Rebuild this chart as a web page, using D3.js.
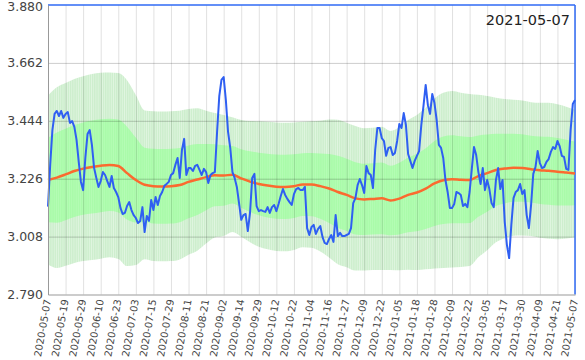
<!DOCTYPE html>
<html><head><meta charset="utf-8">
<script src="https://cdn.jsdelivr.net/npm/d3@7/dist/d3.min.js"></script>
<style>body{margin:0;background:#fff}svg{display:block}</style>
</head><body>
<svg id="c" width="585" height="360"></svg>
<script>
// daily closing values (241 trading days)
const price = [
3.121,3.278,3.409,3.470,3.481,3.462,3.481,3.455,3.470,3.477,
3.436,3.443,3.421,3.372,3.289,3.214,3.183,3.304,3.394,3.409,
3.353,3.266,3.229,3.195,3.217,3.251,3.240,3.217,3.195,3.236,
3.191,3.176,3.157,3.116,3.093,3.097,3.123,3.138,3.108,3.089,
3.078,3.059,3.067,3.119,3.025,3.086,3.067,3.146,3.108,3.157,
3.127,3.161,3.176,3.199,3.206,3.214,3.240,3.247,3.278,3.304,
3.229,3.334,3.376,3.240,3.266,3.266,3.255,3.274,3.278,3.259,
3.240,3.263,3.251,3.210,3.240,3.247,3.251,3.402,3.537,3.598,
3.609,3.522,3.402,3.342,3.251,3.229,3.195,3.134,3.071,3.089,
3.093,3.029,3.097,3.229,3.244,3.123,3.104,3.108,3.104,3.101,
3.119,3.097,3.119,3.127,3.104,3.131,3.161,3.187,3.165,3.150,
3.138,3.127,3.168,3.187,3.191,3.183,3.183,3.195,3.040,3.014,
3.044,3.052,3.018,3.037,3.048,3.007,2.984,2.980,2.999,3.014,
2.988,3.089,3.010,3.022,3.010,3.010,3.014,3.018,3.040,3.134,
3.153,3.202,3.225,3.202,3.172,3.274,3.247,3.240,3.191,3.334,
3.417,3.417,3.379,3.368,3.312,3.342,3.345,3.315,3.323,3.368,
3.432,3.417,3.473,3.428,3.319,3.293,3.266,3.293,3.312,3.330,
3.428,3.500,3.579,3.503,3.470,3.545,3.511,3.447,3.353,3.342,
3.304,3.221,3.176,3.116,3.116,3.131,3.176,3.172,3.165,3.123,
3.131,3.119,3.176,3.263,3.345,3.315,3.251,3.206,3.266,3.183,
3.221,3.187,3.134,3.119,3.221,3.266,3.187,3.221,3.063,2.976,
2.927,3.052,3.153,3.176,3.183,3.206,3.168,3.183,3.089,3.040,
3.127,3.244,3.270,3.330,3.285,3.266,3.270,3.289,3.300,3.327,
3.345,3.338,3.368,3.349,3.312,3.308,3.263,3.259,3.409,3.507,
3.522
];
// moving average and standard deviation, read every 4th trading day
const maValues = [
3.221,3.230,3.242,3.255,3.264,3.270,3.275,3.278,3.274,3.247,
3.221,3.203,3.198,3.197,3.198,3.202,3.214,3.223,3.232,3.239,
3.238,3.241,3.227,3.215,3.206,3.200,3.196,3.195,3.198,3.204,
3.204,3.198,3.189,3.176,3.165,3.152,3.148,3.150,3.152,3.144,
3.151,3.165,3.174,3.189,3.208,3.220,3.224,3.222,3.221,3.236,
3.247,3.259,3.264,3.267,3.266,3.262,3.258,3.256,3.252,3.249,
3.246
];
const sdValues = [
0.159,0.170,0.172,0.173,0.174,0.175,0.175,0.174,0.175,0.175,
0.160,0.140,0.141,0.141,0.141,0.140,0.137,0.134,0.125,0.117,
0.114,0.108,0.110,0.114,0.118,0.120,0.121,0.121,0.120,0.118,
0.119,0.123,0.130,0.136,0.136,0.136,0.134,0.134,0.135,0.131,
0.135,0.141,0.146,0.152,0.160,0.165,0.166,0.164,0.162,0.153,
0.145,0.136,0.131,0.128,0.127,0.126,0.127,0.128,0.127,0.124,
0.120
];
const xTickLabels = [
"2020-05-07","2020-05-19","2020-05-29","2020-06-10","2020-06-23","2020-07-03",
"2020-07-15","2020-07-29","2020-08-11","2020-08-21","2020-09-02","2020-09-14",
"2020-09-29","2020-10-12","2020-10-22","2020-11-04","2020-11-16","2020-11-27",
"2020-12-09","2020-12-22","2021-01-05","2021-01-18","2021-01-28","2021-02-09",
"2021-02-22","2021-03-05","2021-03-17","2021-03-30","2021-04-09","2021-04-21",
"2021-05-07"
];
const yTickValues = [3.880,3.662,3.444,3.226,3.008,2.790];
const titleDate = "2021-05-07";

const svg = d3.select("#c");
const L = 48, R = 575, T = 5, B = 294.5;
const n = price.length;
const x = d3.scaleLinear().domain([0, n - 1]).range([L, R]);
const y = d3.scaleLinear().domain([2.790, 3.880]).range([B, T]);
const band = maValues.map((m, k) => ({i: k * 4, m, s: sdValues[k]}));
const step = (R - L) / (n - 1);

const defs = svg.append("defs");
function stripes(id, base, light) {
  const p = defs.append("pattern").attr("id", id).attr("patternUnits", "userSpaceOnUse")
    .attr("x", L).attr("y", 0).attr("width", step).attr("height", 10);
  p.append("rect").attr("width", step).attr("height", 10).attr("fill", base);
  p.append("rect").attr("x", step * 0.62).attr("width", step * 0.38).attr("height", 10).attr("fill", light);
}
stripes("outerP", "#cdeecd", "#e0f5e0");
stripes("innerP", "#a9fba9", "#b5fcb5");

// bands
const areaOuter = d3.area().x(d => x(d.i)).y0(d => y(d.m - 2 * d.s)).y1(d => y(d.m + 2 * d.s)).curve(d3.curveMonotoneX);
const areaInner = d3.area().x(d => x(d.i)).y0(d => y(d.m - d.s)).y1(d => y(d.m + d.s)).curve(d3.curveMonotoneX);
svg.append("path").datum(band).attr("d", areaOuter).attr("fill", "url(#outerP)");
svg.append("path").datum(band).attr("d", areaInner).attr("fill", "url(#innerP)");

// grid
const tickIdx = d3.range(0, n, 8);
svg.append("g").attr("transform", `translate(0,${B})`)
  .call(d3.axisBottom(x).tickValues(tickIdx).tickSize(-(B - T)).tickFormat(""))
  .call(g => g.select(".domain").remove())
  .call(g => g.selectAll("line").attr("stroke", "#000").attr("stroke-opacity", 0.12));
svg.append("g").attr("transform", `translate(${L},0)`)
  .call(d3.axisLeft(y).tickValues(yTickValues.slice(1, 5)).tickSize(-(R - L)).tickFormat(""))
  .call(g => g.select(".domain").remove())
  .call(g => g.selectAll("line").attr("stroke", "#000").attr("stroke-opacity", 0.2));

// frame
svg.append("line").attr("x1", L).attr("x2", R).attr("y1", T).attr("y2", T).attr("stroke", "#2f6af5").attr("stroke-width", 1.5);
svg.append("line").attr("x1", R).attr("x2", R).attr("y1", T).attr("y2", B).attr("stroke", "#2f6af5").attr("stroke-width", 1.5);

// moving average
svg.append("path").datum(band)
  .attr("d", d3.line().x(d => x(d.i)).y(d => y(d.m)).curve(d3.curveMonotoneX))
  .attr("fill", "none").attr("stroke", "#fb6a2f").attr("stroke-width", 2.5);

// price
svg.append("path").datum(price)
  .attr("d", d3.line().x((d, i) => x(i)).y(d => y(d)))
  .attr("fill", "none").attr("stroke", "#2f5ff2").attr("stroke-width", 2).attr("stroke-linejoin", "round");

// axes
const yAxis = svg.append("g").attr("transform", `translate(${L},0)`)
  .call(d3.axisLeft(y).tickValues(yTickValues).tickFormat(d3.format(".3f")).tickSize(0).tickPadding(5));
yAxis.select(".domain").attr("stroke", "#999");
yAxis.selectAll("text").attr("font-family", "DejaVu Sans").attr("font-size", 12.5).attr("fill", "#444")
  .attr("dy", (d, i) => i === 0 ? "0.45em" : "0.32em");

const xAxis = svg.append("g").attr("transform", `translate(0,${B})`)
  .call(d3.axisBottom(x).tickValues(tickIdx).tickFormat((d, i) => xTickLabels[i]).tickSize(0));
xAxis.select(".domain").attr("stroke", "#999");
xAxis.selectAll("text").attr("font-family", "DejaVu Sans").attr("font-size", 10).attr("fill", "#444")
  .attr("text-anchor", "end").attr("x", 0).attr("y", 0).attr("dx", -5).attr("dy", "0.35em")
  .attr("transform", "rotate(-80)");

svg.append("text").attr("x", 570).attr("y", 25).attr("text-anchor", "end")
  .attr("font-family", "DejaVu Sans").attr("font-size", 14.5).attr("fill", "#222").text(titleDate);
</script>
</body></html>
